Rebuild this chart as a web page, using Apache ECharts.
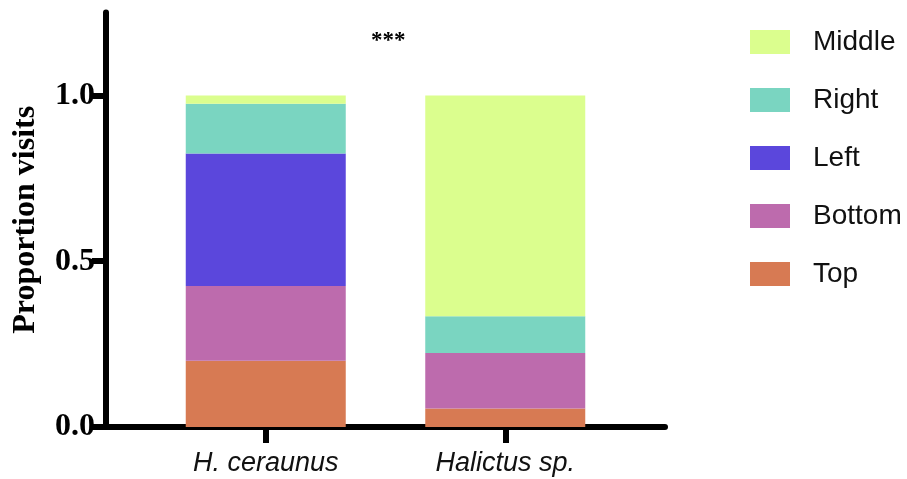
<!DOCTYPE html>
<html><head><meta charset="utf-8">
<script src="https://cdn.jsdelivr.net/npm/echarts@6/dist/echarts.min.js"></script>
<style>html,body{margin:0;padding:0;background:#fff}#c{width:907px;height:479px}</style>
</head><body><div id="c"></div>
<script>
const categories = ['H. ceraunus', 'Halictus sp.'];
const legendOrder = ['Middle', 'Right', 'Left', 'Bottom', 'Top'];
const topVals = [0.200, 0.056];
const bottomVals = [0.225, 0.167];
const leftVals = [0.400, 0.000];
const rightVals = [0.150, 0.111];
const middleVals = [0.025, 0.666];
const yTicks = [0, 0.5, 1.0];
const yMax = 1.25;
const significance = '***';

const colors = {Top:'#d77a53', Bottom:'#bd6bad', Left:'#5b47dc', Right:'#7ad5c1', Middle:'#dbfe8e'};
const seriesData = {Top: topVals, Bottom: bottomVals, Left: leftVals, Right: rightVals, Middle: middleVals};
const stackOrder = ['Top', 'Bottom', 'Left', 'Right', 'Middle'];

const chart = echarts.init(document.getElementById('c'));
chart.setOption({
  animation: false,
  grid: [
    {left: 146, right: 282, top: 12.6, bottom: 52},
    {left: 106, right: 242, top: 12.6, bottom: 52}
  ],
  legend: {
    orient: 'vertical', left: 745, top: 23,
    data: legendOrder, icon: 'rect', itemWidth: 40, itemHeight: 24, itemGap: 30,
    textStyle: {fontFamily: 'Liberation Sans', fontSize: 28, color: '#111', padding: [0,0,0,18]}
  },
  xAxis: [{
    type: 'category', gridIndex: 0, data: categories,
    axisLine: {show: false},
    axisTick: {show: true, alignWithLabel: true, length: 16, lineStyle: {color: '#000', width: 6}},
    axisLabel: {margin: 23, fontFamily: 'Liberation Sans', fontStyle: 'italic', fontSize: 27, color: '#111'}
  }, {
    type: 'value', gridIndex: 1, min: 0, max: 1, splitLine: {show: false},
    axisLine: {show: true, onZero: false, lineStyle: {color: '#000', width: 6}},
    axisTick: {show: false}, axisLabel: {show: false}
  }],
  yAxis: [{
    type: 'value', gridIndex: 0, min: 0, max: yMax, offset: 40, splitLine: {show: false},
    name: 'Proportion visits', nameLocation: 'middle', nameGap: 64,
    nameTextStyle: {fontFamily: 'Liberation Serif', fontWeight: 'bold', fontSize: 32, color: '#000'},
    axisLine: {show: true, lineStyle: {color: '#000', width: 6}},
    axisTick: {show: true, customValues: yTicks, length: 14, lineStyle: {color: '#000', width: 6}},
    axisLabel: {customValues: yTicks, margin: 11, formatter: v => v.toFixed(1),
      fontFamily: 'Liberation Serif', fontWeight: 'bold', fontSize: 32, color: '#000'}
  }, {
    type: 'value', gridIndex: 1, min: 0, max: yMax, show: false
  }],
  graphic: [{
    type: 'text', left: 371, top: 30,
    style: {text: significance, fontFamily: 'Liberation Serif', fontWeight: 'bold', fontSize: 23, fill: '#000'}
  }],
  series: stackOrder.map(name => ({
    name, type: 'bar', stack: 'total', barWidth: 160, xAxisIndex: 0, yAxisIndex: 0,
    itemStyle: {color: colors[name]},
    data: seriesData[name]
  }))
});
</script></body></html>
